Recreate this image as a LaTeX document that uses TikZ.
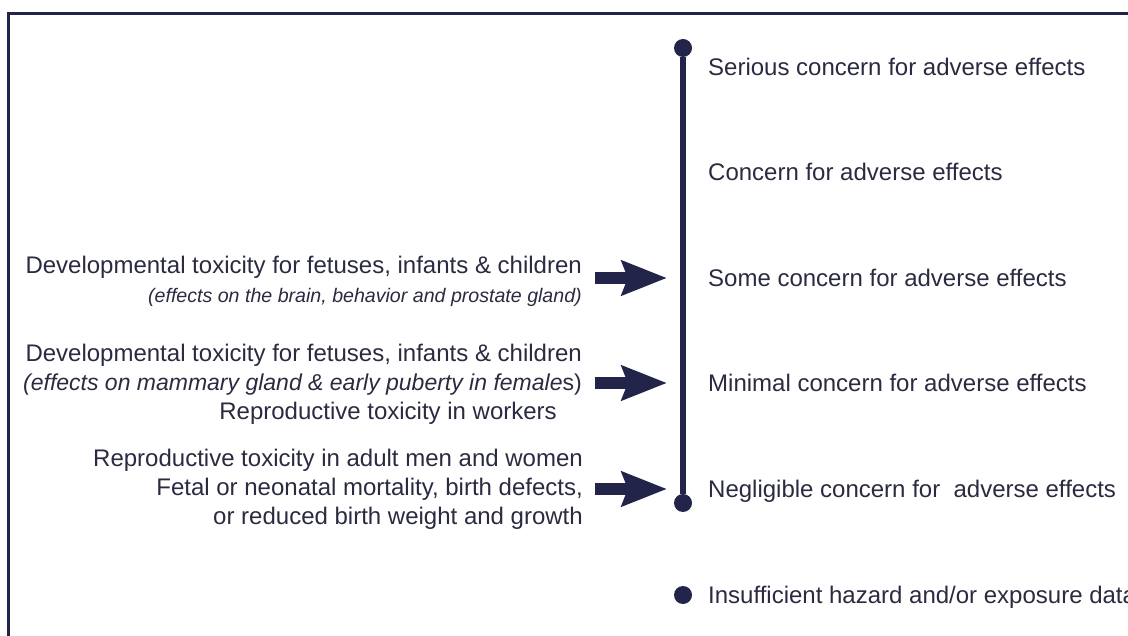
\documentclass[tikz,border=0pt]{standalone}
\usepackage{fontspec}
\setmainfont{Liberation Sans}
\usepackage{tikz}
\usetikzlibrary{positioning,arrows.meta}
\definecolor{ink}{HTML}{22244A}
\definecolor{txt}{HTML}{2A2B40}
\tikzset{
  frame/.style={draw=ink, line width=3pt},
  bar/.style={draw=ink, line width=6pt},
  dot/.style={circle, fill=ink, inner sep=0pt, minimum size=18pt},
  lvl/.style={anchor=west, inner sep=0pt, text=txt, font=\fontsize{24}{29}\selectfont,
              text height=17pt, text depth=0pt},
  why/.style={anchor=east, inner sep=0pt, text=txt, align=right, font=\fontsize{24}{29}\selectfont},
  fat/.style={draw=ink, line width=12pt, -{Stealth[length=45pt, width=34pt, inset=6pt]}},
}

\begin{document}
\begin{tikzpicture}[x=1pt, y=-1pt]
  \useasboundingbox (0,0) rectangle (1128,636);
  \clip (0,0) rectangle (1128,636);
  \draw[frame] (8.5,700) -- (8.5,13.5) -- (1200,13.5);

  \node[dot] (top) at (683,48) {};
  \node[dot] (bot) at (683,503) {};
  \draw[bar] (top) -- (bot);
  \node[dot] (nodata) at (683,595) {};

  \node[lvl] (serious) at (708,67) {Serious concern for adverse effects};
  \node[lvl] (concern) at (708,172) {Concern for adverse effects};
  \node[lvl] (some) at (708,278) {Some concern for adverse effects};
  \node[lvl] (minimal) at (708,383) {Minimal concern for adverse effects};
  \node[lvl] (negl) at (708,489) {Negligible concern for~ adverse effects};
  \node[lvl] (insuff) at (708,595) {Insufficient hazard and/or exposure data};

  \node[why] (dev1) at (582,281) {Developmental toxicity for fetuses, infants \& children\\
    {\fontsize{19.6}{29}\selectfont\itshape (effects on the brain, behavior and prostate gland)}};
  \node[why] (dev2) at (582,384) {Developmental toxicity for fetuses, infants \& children\\
    {\fontsize{23}{29}\selectfont\textit{(effects on mammary gland \& early puberty in female}s)}\\
    Reproductive toxicity in workers\hspace*{25pt}};
  \node[why] (repro) at (583,489) {Reproductive toxicity in adult men and women\\
    Fetal or neonatal mortality, birth defects,\\
    or reduced birth weight and growth};

  \draw[fat] ([xshift=13pt]dev1.east |- some.west) -- ([xshift=-41pt]some.west);
  \draw[fat] ([xshift=13pt]dev2.east |- minimal.west) -- ([xshift=-41pt]minimal.west);
  \draw[fat] ([xshift=12pt]repro.east |- negl.west) -- ([xshift=-41pt]negl.west);
\end{tikzpicture}
\end{document}
